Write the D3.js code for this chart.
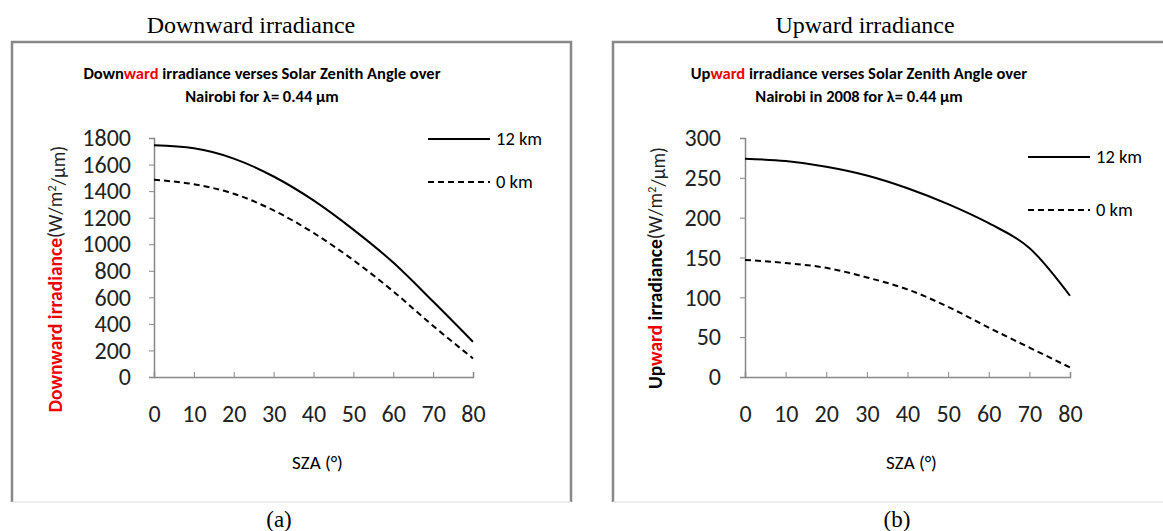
<!DOCTYPE html>
<html>
<head>
<meta charset="utf-8">
<script src="https://cdn.jsdelivr.net/npm/d3@7"></script>
<style>
  body { margin: 0; background: #fff; }
  svg { display: block; }
</style>
</head>
<body>
<div id="chart"></div>
<script>
// solar zenith angles (deg)
const sza = [0, 10, 20, 30, 40, 50, 60, 70, 80]

// downward irradiance (W/m2/um)
const down12km = [1745, 1722, 1645, 1510, 1330, 1110, 862, 568, 265]
const down0km = [1485, 1452, 1380, 1255, 1085, 880, 645, 385, 140]

// upward irradiance (W/m2/um)
const up12km = [274, 271, 264, 253, 237, 217, 193, 162, 102]
const up0km = [147, 143, 137, 125, 110, 88, 62, 37, 12]

const xTicks = [0, 10, 20, 30, 40, 50, 60, 70, 80]
const downTicks = [0, 200, 400, 600, 800, 1000, 1200, 1400, 1600, 1800]
const upTicks = [0, 50, 100, 150, 200, 250, 300]

const W = 1163, H = 531
const svg = d3.select("#chart").append("svg").attr("width", W).attr("height", H)

const sans = "Carlito, 'Open Sans', 'Liberation Sans', sans-serif"
const serif = "'Liberation Serif', 'DejaVu Serif', serif"

const panels = [
  {
    box: [12, 42, 571, 502], heading: "Downward irradiance", headX: 251, tag: "(a)", tagX: 279,
    titleX: 262, title: [["Down", "#000"], ["ward", "#e00"], [" irradiance verses Solar Zenith Angle over", "#000"]],
    title2: "Nairobi for \u03bb= 0.44 \u00b5m",
    x0: 154, x1: 473, yTop: 138, yBot: 377, yMax: 1800, ticks: downTicks,
    tickX: 131, labelX: 55, labelY: 279, prefix: [["Down", "#e00"], ["ward", "#e00"], [" irradiance", "#e00"]],
    s12: down12km, s0: down0km, legX: 428, leg12: 139, leg0: 182
  },
  {
    box: [613, 42, 1175, 502], heading: "Upward irradiance", headX: 865, tag: "(b)", tagX: 897,
    titleX: 859, title: [["Up", "#000"], ["ward", "#e00"], [" irradiance verses Solar Zenith Angle over", "#000"]],
    title2: "Nairobi in 2008 for \u03bb= 0.44 \u00b5m",
    x0: 745, x1: 1070, yTop: 138, yBot: 377, yMax: 300, ticks: upTicks,
    tickX: 721, labelX: 655, labelY: 268, prefix: [["Up", "#000"], ["ward", "#e00"], [" irradiance", "#000"]],
    s12: up12km, s0: up0km, legX: 1028, leg12: 157, leg0: 210
  }
]

panels.forEach(p => {
  const g = svg.append("g")

  // heading above the box
  g.append("text").attr("x", p.headX).attr("y", 33).attr("text-anchor", "middle")
    .style("font-family", serif).style("font-size", "24px").text(p.heading)
  g.append("text").attr("x", p.tagX).attr("y", 527).attr("text-anchor", "middle")
    .style("font-family", serif).style("font-size", "23px").text(p.tag)

  // frame: dark left/top/right, faint bottom
  const [bx0, by0, bx1, by1] = p.box
  g.append("path").attr("d", `M${bx0},${by1}V${by0}H${bx1}V${by1}`)
    .attr("fill", "none").attr("stroke", "#888").attr("stroke-width", 2.5)
  g.append("line").attr("x1", bx0).attr("x2", bx1).attr("y1", by1).attr("y2", by1)
    .attr("stroke", "#ddd").attr("stroke-width", 1)

  // chart title
  const t = g.append("text").attr("x", p.titleX).attr("y", 79).attr("text-anchor", "middle")
    .style("font-family", sans).style("font-size", "16.5px").style("font-weight", 600)
  p.title.forEach(([s, c]) => t.append("tspan").attr("fill", c).text(s))
  g.append("text").attr("x", p.titleX).attr("y", 102).attr("text-anchor", "middle")
    .style("font-family", sans).style("font-size", "16.5px").style("font-weight", 600).text(p.title2)

  const x = d3.scaleLinear().domain([0, 80]).range([p.x0, p.x1])
  const y = d3.scaleLinear().domain([0, p.yMax]).range([p.yBot, p.yTop])

  // y axis
  const gy = g.append("g").attr("transform", `translate(${p.x0},0)`)
    .call(d3.axisLeft(y).tickValues(p.ticks).tickSize(5).tickPadding(p.x0 - p.tickX - 5).tickFormat(d3.format("d")))
  gy.select(".domain").attr("stroke", "#888").attr("stroke-width", 1.5)
  gy.selectAll(".tick line").attr("stroke", "#888")
  gy.selectAll(".tick text").style("font-family", sans).style("font-size", "24px").attr("fill", "#222")

  // x axis, ticks pointing up
  const gx = g.append("g").attr("transform", `translate(0,${p.yBot})`)
    .call(d3.axisBottom(x).tickValues(xTicks).tickSize(-5).tickPadding(37))
  gx.select(".domain").attr("stroke", "#888").attr("stroke-width", 1.5)
  gx.selectAll(".tick line").attr("stroke", "#888")
  gx.selectAll(".tick").filter(d => d === 0).select("line").remove()
  gx.selectAll(".tick text").style("font-family", sans).style("font-size", "24px").attr("fill", "#222")
    .attr("dy", "0.35em")

  g.append("text").attr("x", (p.x0 + p.x1) / 2 + 4).attr("y", 469).attr("text-anchor", "middle")
    .style("font-family", sans).style("font-size", "19px").text("SZA (\u00b0)")

  // y label
  const yl = g.append("text").attr("transform", `translate(${p.labelX},${p.labelY}) rotate(-90)`)
    .attr("text-anchor", "middle").attr("dy", "0.35em").style("font-family", sans).style("font-size", "19.5px")
  p.prefix.forEach(([s, c]) => yl.append("tspan").attr("fill", c).style("font-weight", 700).text(s))
  yl.append("tspan").attr("fill", "#222").text("(W/m")
  yl.append("tspan").attr("fill", "#222").attr("dy", "-0.45em").style("font-size", "12px").text("2")
  yl.append("tspan").attr("fill", "#222").attr("dy", "0.45em").text("/\u00b5m)")

  // series
  const line = d3.line().x((d, i) => x(sza[i])).y(d => y(d)).curve(d3.curveMonotoneX)
  g.append("path").datum(p.s12).attr("d", line).attr("fill", "none")
    .attr("stroke", "#000").attr("stroke-width", 2)
  g.append("path").datum(p.s0).attr("d", line).attr("fill", "none")
    .attr("stroke", "#000").attr("stroke-width", 2).attr("stroke-dasharray", "6,4")

  // legend
  const legend = [["12 km", p.leg12, null], ["0 km", p.leg0, "6,4"]]
  legend.forEach(([name, ly, dash]) => {
    g.append("line").attr("x1", p.legX).attr("x2", p.legX + 62).attr("y1", ly).attr("y2", ly)
      .attr("stroke", "#000").attr("stroke-width", 2).attr("stroke-dasharray", dash)
    g.append("text").attr("x", p.legX + 68).attr("y", ly).attr("dy", "0.35em")
      .style("font-family", sans).style("font-size", "18.5px").text(name)
  })
})
</script>
</body>
</html>
